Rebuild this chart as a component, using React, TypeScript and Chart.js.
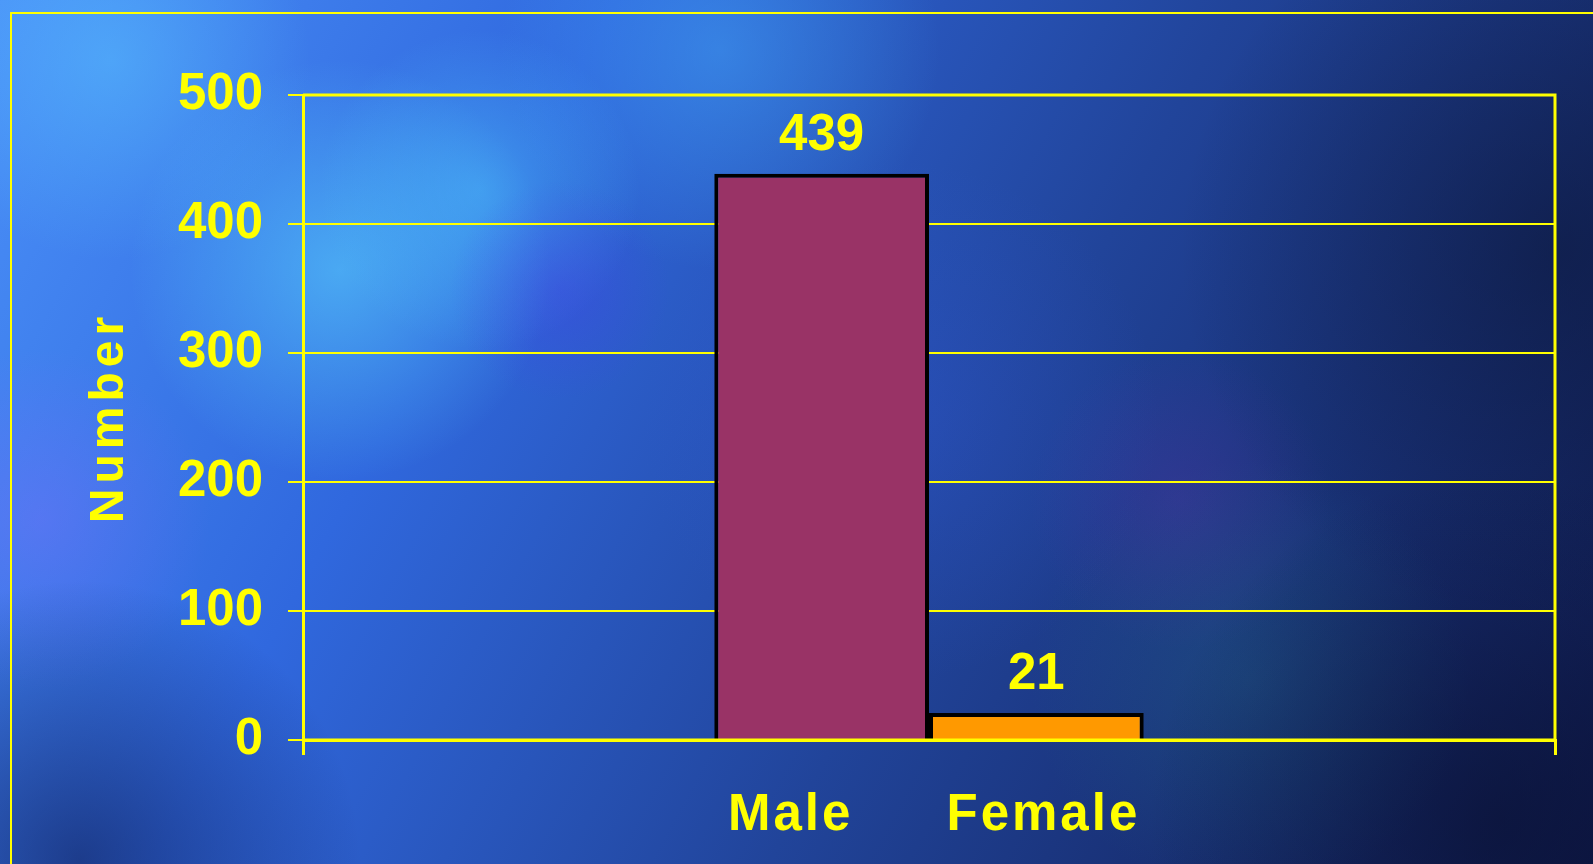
import React, { useEffect, useRef } from "react";
import { Chart, registerables } from "chart.js";

Chart.register(...registerables);

const categories = ["Male", "Female"];
const values = [439, 21];
const barColors = ["#993366", "#FF9900"];
const yTicks = [0, 100, 200, 300, 400, 500];
const axisTitle = "Number";

const YELLOW = "#FFFF00";
const FONT = "'Liberation Sans', Arial, sans-serif";
const W = 1593;
const H = 864;
const labelShift = [-31, 7];

const decorPlugin = {
  id: "decor",
  beforeDraw(chart: any) {
    const ctx = chart.ctx;
    ctx.save();
    const g = ctx.createLinearGradient(0, 0, W, H);
    g.addColorStop(0, "#4a90f8");
    g.addColorStop(0.3, "#3068de");
    g.addColorStop(0.6, "#21449a");
    g.addColorStop(1, "#0f1a4c");
    ctx.fillStyle = g;
    ctx.fillRect(0, 0, W, H);
    const blobs: [number, number, number, string][] = [
      [340, 270, 210, "rgba(90,215,255,0.55)"],
      [480, 190, 160, "rgba(80,205,255,0.45)"],
      [110, 60, 200, "rgba(90,200,255,0.45)"],
      [720, 50, 220, "rgba(70,180,255,0.40)"],
      [560, 290, 110, "rgba(70,60,230,0.35)"],
      [40, 520, 170, "rgba(130,110,255,0.35)"],
      [1180, 500, 150, "rgba(90,50,170,0.30)"],
      [1250, 680, 220, "rgba(40,130,150,0.25)"],
      [900, 420, 260, "rgba(50,90,220,0.30)"],
      [80, 860, 280, "rgba(10,20,70,0.55)"],
      [1560, 250, 380, "rgba(10,20,50,0.50)"],
      [1500, 820, 350, "rgba(8,14,45,0.55)"],
    ];
    for (const [x, y, r, c] of blobs) {
      const rg = ctx.createRadialGradient(x, y, 0, x, y, r);
      rg.addColorStop(0, c);
      rg.addColorStop(1, c.replace(/[\d.]+\)$/, "0)"));
      ctx.fillStyle = rg;
      ctx.fillRect(0, 0, W, H);
    }
    // outer frame lines
    ctx.strokeStyle = YELLOW;
    ctx.lineWidth = 2;
    ctx.beginPath();
    ctx.moveTo(11, H);
    ctx.lineTo(11, 13);
    ctx.lineTo(W, 13);
    ctx.stroke();
    ctx.restore();
  },
  afterDatasetsDraw(chart: any) {
    const ctx = chart.ctx;
    const area = chart.chartArea;
    ctx.save();
    // plot border (top, right, and baseline over bars)
    ctx.strokeStyle = YELLOW;
    ctx.lineWidth = 3;
    ctx.beginPath();
    ctx.moveTo(area.left, area.top);
    ctx.lineTo(area.right, area.top);
    ctx.lineTo(area.right, area.bottom);
    ctx.lineTo(area.left, area.bottom);
    ctx.stroke();

    ctx.fillStyle = YELLOW;
    ctx.font = `bold 51px ${FONT}`;
    ctx.textAlign = "center";
    ctx.textBaseline = "alphabetic";
    chart.data.datasets.forEach((ds: any, i: number) => {
      const meta = chart.getDatasetMeta(i);
      const bar = meta.data[0];
      if (!bar) return;
      ctx.letterSpacing = "0px";
      ctx.fillText(String(ds.data[0]), bar.x, bar.y - 24);
      ctx.letterSpacing = "3px";
      ctx.fillText(ds.label, bar.x + labelShift[i], area.bottom + 90);
    });

    // y axis title
    ctx.font = `bold 48px ${FONT}`;
    ctx.letterSpacing = "5px";
    ctx.translate(123, (area.top + area.bottom) / 2);
    ctx.rotate(-Math.PI / 2);
    ctx.fillText(axisTitle, 0, 0);
    ctx.restore();
  },
};

export default function App() {
  const ref = useRef<HTMLCanvasElement | null>(null);
  useEffect(() => {
    if (!ref.current) return;
    const chart = new Chart(ref.current, {
      type: "bar",
      data: {
        labels: [""],
        datasets: categories.map((c, i) => ({
          label: c,
          data: [values[i]],
          backgroundColor: barColors[i],
          borderColor: "#000000",
          borderWidth: 4,
        })),
      },
      options: {
        responsive: false,
        animation: false,
        devicePixelRatio: 1,
        layout: { padding: { top: 95, right: 38, left: 0, bottom: 0 } },
        datasets: { bar: { categoryPercentage: 0.343, barPercentage: 1 } },
        plugins: { legend: { display: false }, tooltip: { enabled: false } },
        scales: {
          x: {
            offset: true,
            grid: {
              display: true,
              offset: true,
              drawOnChartArea: false,
              drawTicks: true,
              tickLength: 15,
              color: YELLOW,
              lineWidth: 3,
            },
            border: { display: true, color: YELLOW, width: 3 },
            ticks: { display: false },
            afterFit: (s: any) => {
              s.height = 124;
            },
          },
          y: {
            min: yTicks[0],
            max: yTicks[yTicks.length - 1],
            afterBuildTicks: (s: any) => {
              s.ticks = yTicks.map((v) => ({ value: v }));
            },
            ticks: {
              color: YELLOW,
              padding: 25,
              font: { family: FONT, size: 51, weight: "bold" },
            },
            grid: { color: YELLOW, lineWidth: 2, tickLength: 15, drawTicks: true },
            border: { display: true, color: YELLOW, width: 3 },
            afterFit: (s: any) => {
              s.width = 303;
            },
          },
        },
      } as any,
      plugins: [decorPlugin],
    });
    return () => chart.destroy();
  }, []);
  return (
    <div style={{ position: "fixed", left: 0, top: 0, width: W, height: H }}>
      <canvas ref={ref} width={W} height={H} style={{ display: "block" }} />
    </div>
  );
}
